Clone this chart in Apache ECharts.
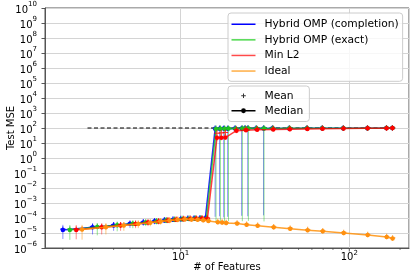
<!DOCTYPE html>
<html><head><meta charset="utf-8">
<script src="https://cdn.jsdelivr.net/npm/echarts@6/dist/echarts.min.js"></script>
<style>html,body{margin:0;padding:0;background:#fff}#c{width:415px;height:280px}</style>
</head><body><div id="c"></div>
<script>
// ---------------- data ----------------
const featureCounts = [2,3,4,5,6,7,8,9,10,11,12,13,14,16,17,18,19,21,23,24,25,28,31,35,44,56,69,92,128,166,180];
const methodNames = ['Hybrid OMP (completion)', 'Hybrid OMP (exact)', 'Min L2', 'Ideal'];

const completionMedian = [1.6e-5,2.4e-5,3.2e-5,4.1e-5,5.1e-5,6.0e-5,6.9e-5,7.7e-5,8.4e-5,8.8e-5,9.1e-5,9.3e-5,9.6e-5,88,90,91,90,92,91,93,92,94,93,95,94,96,95,97,98,99,100];
const completionMean   = [1.8e-5,2.7e-5,3.6e-5,4.5e-5,5.6e-5,6.6e-5,7.6e-5,8.5e-5,9.2e-5,9.6e-5,1.0e-4,1.02e-4,1.05e-4,96,97,98,98,99,98,99,99,100,99,100,100,101,100,101,101,102,102];
const completionLow    = [4e-6,8e-6,1.4e-5,2.2e-5,3.0e-5,3.8e-5,4.6e-5,5.4e-5,6.0e-5,6.4e-5,6.8e-5,7.0e-5,7.2e-5,1.2e-4,1.3e-4,1.1e-4,1.2e-4,70,1.4e-4,75,1.3e-4,78,1.5e-4,80,82,85,87,90,92,94,95];
const completionHigh   = [3.5e-5,4.4e-5,5.2e-5,6.2e-5,7.4e-5,8.4e-5,9.6e-5,1.06e-4,1.12e-4,1.16e-4,1.2e-4,1.22e-4,1.25e-4,110,112,112,113,112,113,113,114,114,114,115,115,115,116,116,117,117,118];

const exactMedian = [1.6e-5,2.5e-5,3.3e-5,4.1e-5,5.0e-5,5.9e-5,6.8e-5,7.6e-5,8.3e-5,8.7e-5,9.0e-5,9.2e-5,9.0e-5,87,89,90,91,90,92,91,93,92,94,93,95,96,96,97,98,99,100];
const exactMean   = [1.8e-5,2.8e-5,3.7e-5,4.5e-5,5.5e-5,6.5e-5,7.5e-5,8.4e-5,9.1e-5,9.5e-5,9.9e-5,1.0e-4,1.0e-4,95,96,97,98,98,99,99,99,100,99,100,100,100,101,101,101,102,102];
const exactLow    = [3.5e-6,7e-6,1.3e-5,2.1e-5,2.9e-5,3.7e-5,4.5e-5,5.3e-5,5.9e-5,6.3e-5,6.6e-5,6.8e-5,6.6e-5,6.2e-5,6.4e-5,6.0e-5,6.3e-5,72,6.1e-5,76,6.4e-5,78,5.9e-5,80,82,85,87,90,92,94,95];
const exactHigh   = [3.4e-5,4.3e-5,5.1e-5,6.1e-5,7.3e-5,8.3e-5,9.5e-5,1.05e-4,1.1e-4,1.14e-4,1.18e-4,1.2e-4,1.2e-4,110,111,112,112,113,113,113,114,114,114,115,115,115,116,116,117,117,118];

const minL2Median = [1.6e-5,2.4e-5,3.2e-5,4.0e-5,5.0e-5,5.9e-5,6.8e-5,7.6e-5,8.3e-5,8.7e-5,9.0e-5,9.1e-5,8.8e-5,22,22,23,null,66,null,71,null,75,null,78,82,85,88,91,95,98,100];
const minL2Mean   = [1.8e-5,2.7e-5,3.6e-5,4.4e-5,5.5e-5,6.5e-5,7.5e-5,8.4e-5,9.1e-5,9.5e-5,9.8e-5,1.0e-4,9.8e-5,45,47,50,null,82,null,86,null,89,null,91,93,95,96,97,99,100,101];
const minL2Low    = [3.8e-6,8e-6,1.4e-5,2.1e-5,2.9e-5,3.7e-5,4.5e-5,5.3e-5,5.9e-5,6.3e-5,6.6e-5,6.8e-5,6.5e-5,14,15,16,null,45,null,55,null,60,null,65,68,72,75,80,85,88,92];
const minL2High   = [3.4e-5,4.3e-5,5.1e-5,6.1e-5,7.3e-5,8.3e-5,9.5e-5,1.05e-4,1.1e-4,1.14e-4,1.18e-4,1.2e-4,1.18e-4,35,36,38,null,95,null,100,null,104,null,106,108,110,112,113,115,116,117];

const idealMedian = [1.7e-5,2.4e-5,3.2e-5,4.0e-5,4.9e-5,5.8e-5,6.7e-5,7.5e-5,8.1e-5,8.0e-5,7.6e-5,7.1e-5,6.4e-5,5.3e-5,5.0e-5,4.7e-5,null,4.3e-5,null,3.5e-5,null,3.0e-5,null,2.4e-5,1.9e-5,1.55e-5,1.3e-5,1.0e-5,7.4e-6,5.4e-6,4.3e-6];
const idealMean   = [1.9e-5,2.7e-5,3.6e-5,4.5e-5,5.4e-5,6.4e-5,7.3e-5,8.2e-5,8.8e-5,8.7e-5,8.3e-5,7.8e-5,7.0e-5,5.8e-5,5.4e-5,5.1e-5,null,4.7e-5,null,3.8e-5,null,3.3e-5,null,2.6e-5,2.1e-5,1.7e-5,1.4e-5,1.1e-5,8.0e-6,5.9e-6,4.7e-6];
const idealLow    = [3.6e-6,8e-6,1.4e-5,2.1e-5,2.8e-5,3.6e-5,4.4e-5,5.1e-5,5.7e-5,5.8e-5,5.6e-5,5.3e-5,4.9e-5,4.1e-5,3.9e-5,3.7e-5,null,3.4e-5,null,2.8e-5,null,2.4e-5,null,2.0e-5,1.6e-5,1.3e-5,1.1e-5,8.6e-6,6.4e-6,4.7e-6,3.8e-6];
const idealHigh   = [3.5e-5,4.3e-5,5.1e-5,6.0e-5,7.0e-5,8.0e-5,9.0e-5,9.9e-5,1.05e-4,1.04e-4,1.0e-4,9.5e-5,8.6e-5,6.8e-5,6.4e-5,6.0e-5,null,5.4e-5,null,4.4e-5,null,3.7e-5,null,2.9e-5,2.3e-5,1.85e-5,1.55e-5,1.2e-5,8.7e-6,6.3e-6,5.0e-6];

const baselineX = [2.8, 187];
const baselineY = [100, 100];

const xMin = 1.567, xMax = 226;
const yMin = 1e-6, yMax = 1e10;

// ---------------- styles ----------------
const FONT = 'DejaVu Sans';
const styles = [
  {line:'rgba(0,0,255,0.85)',   mark:'#0000ff', bar:'rgba(0,0,255,0.45)',   legend:'#0000ff', off:0},
  {line:'rgba(20,200,20,0.75)', mark:'#22c022', bar:'rgba(20,200,20,0.45)', legend:'#4cd84c', off:0.2},
  {line:'rgba(255,0,0,0.75)',   mark:'#ff0000', bar:'rgba(255,0,0,0.45)',   legend:'#ff4a4a', off:0.4},
  {line:'rgba(255,145,10,0.85)',mark:'#ff9010', bar:'rgba(255,145,10,0.5)', legend:'#ffae45', off:0.6}
];
const methodData = [
  {median:completionMedian, mean:completionMean, lo:completionLow, hi:completionHigh},
  {median:exactMedian, mean:exactMean, lo:exactLow, hi:exactHigh},
  {median:minL2Median, mean:minL2Mean, lo:minL2Low, hi:minL2High},
  {median:idealMedian, mean:idealMean, lo:idealLow, hi:idealHigh}
];
const plusPath = 'path://M2,0L3,0L3,2L5,2L5,3L3,3L3,5L2,5L2,3L0,3L0,2L2,2Z';

const series = [];
series.push({
  type:'line', name:'baseline', data: baselineX.map((x,i)=>[x, baselineY[i]]),
  showSymbol:false, symbol:'none', lineStyle:{color:'#000', width:1.1, type:[4,2.5]}, z:1, silent:true
});
methodData.forEach((m, i) => {
  const st = styles[i];
  const nm = methodNames[i];
  const bars = [], med = [], mean = [];
  featureCounts.forEach((x, k) => {
    const xx = x + st.off;
    if (m.lo[k] != null && m.hi[k] != null) bars.push([xx, m.lo[k], m.hi[k]]);
    if (m.median[k] != null) med.push([xx, m.median[k]]);
    if (m.mean[k] != null) mean.push([xx, m.mean[k]]);
  });
  series.push({
    type:'custom', name:nm, data:bars, z:2+i*3, silent:true,
    encode:{x:0, y:[1,2]},
    renderItem:(params, api) => {
      const p1 = api.coord([api.value(0), api.value(1)]);
      const p2 = api.coord([api.value(0), api.value(2)]);
      return {type:'line', shape:{x1:p1[0], y1:p1[1], x2:p2[0], y2:p2[1]}, style:{stroke:st.bar, lineWidth:1}};
    }
  });
  series.push({
    type:'line', name:nm, data:med, z:3+i*3, symbol:'circle', symbolSize:4.5, showSymbol:true,
    lineStyle:{color:st.line, width:1.5}, itemStyle:{color:st.mark, borderWidth:0}, silent:true
  });
  series.push({
    type:'scatter', name:nm, data:mean, z:4+i*3, symbol:plusPath, symbolSize:5.5,
    itemStyle:{color:st.mark}, silent:true
  });
});
series.push({type:'scatter', name:'Mean', data:[], itemStyle:{color:'#000'}});
series.push({type:'line', name:'Median', data:[], itemStyle:{color:'#000'}, lineStyle:{color:'#000'}});
const xTickVals = [];
for (let d = 1; d <= 100; d *= 10) for (let k = 1; k <= 9; k++) { const v = k*d; if (v >= xMin && v <= xMax) xTickVals.push(v); }
series.push({
  type:'custom', name:'xticks', data:xTickVals.map(v=>[v, yMin]), silent:true, z:1,
  encode:{x:0, y:1},
  renderItem:(params, api) => {
    const v = api.value(0);
    const p = api.coord([v, yMin]);
    const major = Math.abs(Math.log10(v) - Math.round(Math.log10(v))) < 1e-9;
    const len = major ? 3.5 : 2;
    return {type:'line', shape:{x1:p[0], y1:p[1], x2:p[0], y2:p[1]+len}, style:{stroke:'#444', lineWidth:major?0.9:0.7}};
  }
});

function powLabel(v) {
  const l = Math.log10(v);
  const e = Math.round(l);
  if (Math.abs(l - e) > 1e-6) return '';
  const s = e < 0 ? '\u2212' + (-e) : '' + e;
  return '{b|10}{s|' + s + '}';
}
const richY = {
  b:{fontSize:10, fontFamily:FONT, color:'#000', lineHeight:14, verticalAlign:'bottom'},
  s:{fontSize:7, fontFamily:FONT, color:'#000', lineHeight:14, verticalAlign:'top'}
};
const richX = {
  b:{fontSize:10, fontFamily:FONT, color:'#000', lineHeight:12, verticalAlign:'bottom'},
  s:{fontSize:7, fontFamily:FONT, color:'#000', lineHeight:12, verticalAlign:'top'}
};

const lineIcon = 'path://M0,0L24,0L24,1.5L0,1.5Z';
const meanIcon = 'path://M0,0L0.01,0L0,0.01Z M24,12L23.99,12L24,11.99Z M11.5,3.7L12.5,3.7L12.5,5.5L14.3,5.5L14.3,6.5L12.5,6.5L12.5,8.3L11.5,8.3L11.5,6.5L9.7,6.5L9.7,5.5L11.5,5.5Z';
const medianIcon = 'path://M0,0L0.01,0L0,0.01Z M24,12L23.99,12L24,11.99Z M0,5.3L9.8,5.3L9.8,6.7L0,6.7Z M14.2,5.3L24,5.3L24,6.7L14.2,6.7Z M9.6,6 A2.4,2.4 0 1 1 14.4,6 A2.4,2.4 0 1 1 9.6,6Z';

const legendCommon = {
  orient:'vertical', itemWidth:24, itemHeight:12, selectedMode:false,
  backgroundColor:'rgba(255,255,255,0.8)', borderColor:'#cccccc', borderWidth:1, borderRadius:3,
  textStyle:{fontFamily:FONT, fontSize:10.7, color:'#000', lineHeight:12.5, padding:[0,0,0,4]}
};

const option = {
  animation:false,
  backgroundColor:'#fff',
  grid:{left:45, right:6, top:8, bottom:32, show:true, borderColor:'#555', borderWidth:1, backgroundColor:'transparent', outerBoundsMode:'none', containLabel:false},
  legend:[
    Object.assign({}, legendCommon, {
      left:228, top:13, padding:[5,4,4,3.5], itemGap:3.1,
      data: methodNames.map((n,i)=>({name:n, icon:lineIcon, itemStyle:{color:styles[i].legend}}))
    }),
    Object.assign({}, legendCommon, {
      left:228, top:86, padding:[3.5,6,4.5,3.5], itemGap:2.5,
      data:[{name:'Mean', icon:meanIcon, itemStyle:{color:'#000'}}, {name:'Median', icon:medianIcon, itemStyle:{color:'#000'}}]
    })
  ],
  xAxis:{
    type:'log', logBase:10, min:xMin, max:xMax, splitNumber:2,
    name:'# of Features', nameLocation:'middle', nameGap:14, nameMoveOverlap:false,
    nameTextStyle:{fontFamily:FONT, fontSize:10, color:'#000'},
    axisLine:{show:true, lineStyle:{color:'#555', width:1}},
    axisTick:{show:false},
    axisLabel:{formatter:powLabel, rich:richX, margin:2, showMinLabel:false, showMaxLabel:false},
    splitLine:{show:true, lineStyle:{color:'#d4d4d4', width:1}},
    minorTick:{show:false}, minorSplitLine:{show:false}
  },
  yAxis:{
    type:'log', logBase:10, min:yMin, max:yMax, interval:1,
    name:'Test MSE', nameLocation:'middle', nameGap:29, nameRotate:90, nameMoveOverlap:false,
    nameTextStyle:{fontFamily:FONT, fontSize:10, color:'#000'},
    axisLine:{show:true, lineStyle:{color:'#555', width:1}},
    axisTick:{show:true, length:3.5, lineStyle:{color:'#444', width:0.9}},
    axisLabel:{formatter:powLabel, rich:richY, margin:8},
    splitLine:{show:true, lineStyle:{color:'#d4d4d4', width:1}}
  },
  series:series
};
const chart = echarts.init(document.getElementById('c'), null, {renderer:'canvas'});
chart.setOption(option);
</script>
</body></html>
